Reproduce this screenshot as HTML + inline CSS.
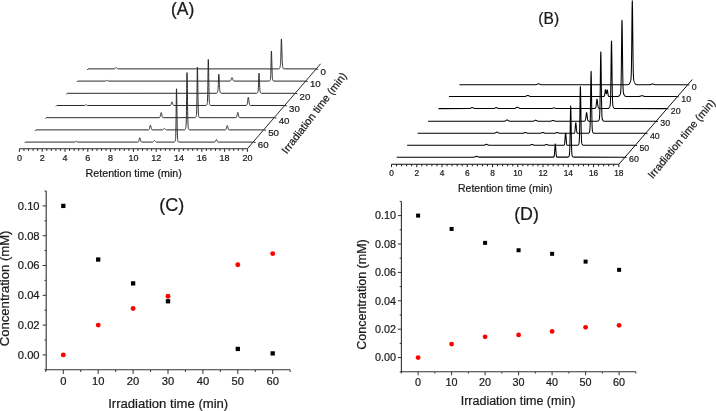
<!DOCTYPE html>
<html><head><meta charset="utf-8"><style>
html,body{margin:0;padding:0;background:#fff;width:716px;height:411px;overflow:hidden}
svg{display:block}
text{font-family:"Liberation Sans", sans-serif}
svg text{filter:grayscale(1);stroke:#1a1a1a;stroke-width:0.22px}
</style></head><body>
<svg width="716" height="411" viewBox="0 0 716 411" font-family='"Liberation Sans", sans-serif' fill="#1a1a1a">
<path d="M19.4 148.7H247.4" stroke="#2a2a2a" stroke-width="1.1" fill="none"/>
<path d="M19.4 148.7v3.2M23.96 148.7v2.2M28.52 148.7v2.2M33.08 148.7v2.2M37.64 148.7v2.2M42.2 148.7v3.2M46.76 148.7v2.2M51.32 148.7v2.2M55.88 148.7v2.2M60.44 148.7v2.2M65 148.7v3.2M69.56 148.7v2.2M74.12 148.7v2.2M78.68 148.7v2.2M83.24 148.7v2.2M87.8 148.7v3.2M92.36 148.7v2.2M96.92 148.7v2.2M101.48 148.7v2.2M106.04 148.7v2.2M110.6 148.7v3.2M115.16 148.7v2.2M119.72 148.7v2.2M124.28 148.7v2.2M128.84 148.7v2.2M133.4 148.7v3.2M137.96 148.7v2.2M142.52 148.7v2.2M147.08 148.7v2.2M151.64 148.7v2.2M156.2 148.7v3.2M160.76 148.7v2.2M165.32 148.7v2.2M169.88 148.7v2.2M174.44 148.7v2.2M179 148.7v3.2M183.56 148.7v2.2M188.12 148.7v2.2M192.68 148.7v2.2M197.24 148.7v2.2M201.8 148.7v3.2M206.36 148.7v2.2M210.92 148.7v2.2M215.48 148.7v2.2M220.04 148.7v2.2M224.6 148.7v3.2M229.16 148.7v2.2M233.72 148.7v2.2M238.28 148.7v2.2M242.84 148.7v2.2M247.4 148.7v3.2" stroke="#2a2a2a" stroke-width="1" fill="none"/>
<text x="19.4" y="160.9" font-size="9" text-anchor="middle">0</text>
<text x="42.2" y="160.9" font-size="9" text-anchor="middle">2</text>
<text x="65" y="160.9" font-size="9" text-anchor="middle">4</text>
<text x="87.8" y="160.9" font-size="9" text-anchor="middle">6</text>
<text x="110.6" y="160.9" font-size="9" text-anchor="middle">8</text>
<text x="133.4" y="160.9" font-size="9" text-anchor="middle">10</text>
<text x="156.2" y="160.9" font-size="9" text-anchor="middle">12</text>
<text x="179" y="160.9" font-size="9" text-anchor="middle">14</text>
<text x="201.8" y="160.9" font-size="9" text-anchor="middle">16</text>
<text x="224.6" y="160.9" font-size="9" text-anchor="middle">18</text>
<text x="247.4" y="160.9" font-size="9" text-anchor="middle">20</text>
<text x="133.7" y="176.7" font-size="10.7" text-anchor="middle">Retention time (min)</text>
<path d="M247.4 148.7L320.6 63.8" stroke="#2a2a2a" stroke-width="1" fill="none"/>
<path d="M315.98 68.9l2.2 0.4" stroke="#2a2a2a" stroke-width="1" fill="none"/>
<text x="320.38" y="75.2" font-size="9.7">0</text>
<path d="M305.55 81.1l2.2 0.4" stroke="#2a2a2a" stroke-width="1" fill="none"/>
<text x="309.95" y="87.4" font-size="9.7">10</text>
<path d="M295.12 93.3l2.2 0.4" stroke="#2a2a2a" stroke-width="1" fill="none"/>
<text x="299.52" y="99.6" font-size="9.7">20</text>
<path d="M284.69 105.5l2.2 0.4" stroke="#2a2a2a" stroke-width="1" fill="none"/>
<text x="289.09" y="111.8" font-size="9.7">30</text>
<path d="M274.26 117.7l2.2 0.4" stroke="#2a2a2a" stroke-width="1" fill="none"/>
<text x="278.66" y="124" font-size="9.7">40</text>
<path d="M263.83 129.9l2.2 0.4" stroke="#2a2a2a" stroke-width="1" fill="none"/>
<text x="268.23" y="136.2" font-size="9.7">50</text>
<path d="M253.4 142.1l2.2 0.4" stroke="#2a2a2a" stroke-width="1" fill="none"/>
<text x="257.8" y="148.4" font-size="9.7">60</text>
<path d="M87.2 69.8L88.1 68.9L114.1 68.89L114.2 68.88L114.28 68.87L114.45 68.84L114.62 68.8L114.7 68.77L114.8 68.72L114.97 68.62L115.15 68.48L115.2 68.43L115.33 68.3L115.5 68.11L115.67 67.92L115.7 67.89L115.85 67.75L116.03 67.64L116.2 67.6L116.38 67.64L116.55 67.75L116.7 67.89L116.72 67.92L116.9 68.11L117.08 68.3L117.2 68.43L117.25 68.48L117.42 68.62L117.6 68.72L117.7 68.77L117.78 68.8L117.95 68.84L118.12 68.87L118.2 68.88L118.3 68.89L278.72 68.88L278.8 68.88L278.88 68.87L278.96 68.85L279.04 68.84L279.12 68.81L279.2 68.78L279.28 68.73L279.36 68.68L279.44 68.6L279.52 68.51L279.6 68.39L279.68 68.25L279.7 68.21L279.76 68.08L279.84 67.87L279.92 67.62L280 67.32L280.08 66.98L280.16 66.59L280.2 66.38L280.24 66.15L280.32 65.64L280.4 65.04L280.48 64.32L280.56 63.42L280.64 62.26L280.7 61.16L280.72 60.74L280.8 58.74L280.88 56.21L280.96 53.16L281.04 49.73L281.12 46.19L281.2 42.94L281.28 40.44L281.36 39.08L281.4 38.9L281.44 39.01L281.52 39.85L281.6 41.47L281.68 43.69L281.7 44.32L281.76 46.34L281.84 49.19L281.92 52.06L282 54.8L282.08 57.27L282.16 59.43L282.2 60.38L282.24 61.25L282.32 62.75L282.4 63.97L282.48 64.94L282.56 65.72L282.64 66.34L282.7 66.72L282.72 66.84L282.8 67.24L282.88 67.57L282.96 67.84L283.04 68.07L283.12 68.25L283.2 68.39L283.28 68.51L283.36 68.6L283.44 68.68L283.52 68.73L283.6 68.78L283.68 68.81L283.7 68.82L283.76 68.84L283.84 68.85L283.92 68.87L284 68.88L284.08 68.88L315.98 68.9M76.77 82L77.67 81.1L105.4 81.09L105.53 81.08L105.65 81.06L105.77 81.03L105.78 81.03L105.9 80.98L106.03 80.91L106.15 80.81L106.27 80.69L106.28 80.69L106.4 80.55L106.53 80.42L106.65 80.31L106.77 80.23L106.78 80.23L106.9 80.2L107.03 80.23L107.15 80.31L107.27 80.42L107.28 80.42L107.4 80.55L107.53 80.69L107.65 80.81L107.77 80.9L107.78 80.91L107.9 80.98L108.03 81.03L108.15 81.06L108.27 81.08L108.28 81.08L108.4 81.09L229.72 81.08L229.77 81.08L229.9 81.06L230.07 81.02L230.25 80.95L230.27 80.93L230.43 80.82L230.6 80.63L230.77 80.35L230.78 80.34L230.95 79.96L231.12 79.5L231.27 79.07L231.3 78.98L231.47 78.46L231.65 78.01L231.77 77.78L231.82 77.71L232 77.6L232.18 77.71L232.27 77.85L232.35 78.01L232.53 78.46L232.7 78.98L232.77 79.19L232.88 79.5L233.05 79.96L233.22 80.34L233.27 80.43L233.4 80.63L233.57 80.82L233.75 80.95L233.77 80.96L233.93 81.02L234.1 81.06L234.27 81.08L268.88 81.09L268.96 81.08L269.04 81.07L269.12 81.06L269.2 81.05L269.27 81.03L269.28 81.03L269.36 81L269.44 80.97L269.52 80.93L269.6 80.88L269.68 80.81L269.76 80.73L269.77 80.72L269.84 80.64L269.92 80.53L270 80.4L270.08 80.24L270.16 80.07L270.24 79.85L270.27 79.76L270.32 79.59L270.4 79.26L270.48 78.8L270.56 78.13L270.64 77.15L270.72 75.72L270.77 74.53L270.8 73.7L270.88 70.98L270.96 67.59L271.04 63.67L271.12 59.57L271.2 55.77L271.27 53.13L271.28 52.82L271.36 51.21L271.4 51L271.44 51.12L271.52 52.09L271.6 53.94L271.68 56.47L271.76 59.46L271.77 59.85L271.84 62.66L271.92 65.83L272 68.79L272.08 71.41L272.16 73.63L272.24 75.43L272.27 76L272.32 76.85L272.4 77.92L272.48 78.72L272.56 79.31L272.64 79.75L272.72 80.06L272.77 80.22L272.8 80.3L272.88 80.48L272.96 80.61L273.04 80.72L273.12 80.81L273.2 80.87L273.27 80.92L273.28 80.93L273.36 80.97L273.44 81L273.52 81.03L273.6 81.05L273.68 81.06L273.76 81.07L273.77 81.07L273.84 81.08L273.92 81.09L305.55 81.1M66.34 94.2L67.24 93.3L216.28 93.28L216.34 93.28L216.36 93.27L216.44 93.26L216.52 93.25L216.6 93.23L216.68 93.21L216.76 93.18L216.84 93.14L216.92 93.08L217 93.02L217.08 92.94L217.16 92.84L217.24 92.73L217.32 92.59L217.34 92.55L217.4 92.42L217.48 92.23L217.56 92.02L217.64 91.77L217.72 91.48L217.8 91.14L217.84 90.94L217.88 90.72L217.96 90.18L218.04 89.47L218.12 88.51L218.2 87.24L218.28 85.6L218.34 84.14L218.36 83.61L218.44 81.36L218.52 79.02L218.6 76.88L218.68 75.22L218.76 74.32L218.8 74.2L218.84 74.27L218.92 74.83L219 75.89L219.08 77.35L219.16 79.08L219.24 80.95L219.32 82.82L219.34 83.27L219.4 84.59L219.48 86.18L219.56 87.56L219.64 88.72L219.72 89.66L219.8 90.42L219.84 90.73L219.88 91.01L219.96 91.48L220.04 91.84L220.12 92.14L220.2 92.37L220.28 92.56L220.34 92.68L220.36 92.71L220.44 92.84L220.52 92.94L220.6 93.02L220.68 93.08L220.76 93.14L220.84 93.18L220.92 93.21L221 93.23L221.08 93.25L221.16 93.26L221.24 93.27L221.32 93.28L256.48 93.29L256.56 93.28L256.64 93.27L256.72 93.26L256.8 93.25L256.84 93.24L256.88 93.23L256.96 93.2L257.04 93.17L257.12 93.13L257.2 93.08L257.28 93.01L257.34 92.95L257.36 92.93L257.44 92.84L257.52 92.73L257.6 92.6L257.68 92.45L257.76 92.27L257.84 92.07L257.92 91.83L258 91.53L258.08 91.16L258.16 90.65L258.24 89.95L258.32 88.96L258.34 88.67L258.4 87.62L258.48 85.86L258.56 83.68L258.64 81.18L258.72 78.59L258.8 76.2L258.84 75.18L258.88 74.34L258.96 73.33L259 73.2L259.04 73.28L259.12 73.89L259.2 75.07L259.28 76.68L259.34 78.09L259.36 78.58L259.44 80.63L259.52 82.67L259.6 84.59L259.68 86.31L259.76 87.77L259.84 88.98L259.92 89.95L260 90.71L260.08 91.29L260.16 91.74L260.24 92.07L260.32 92.33L260.34 92.39L260.4 92.54L260.48 92.7L260.56 92.82L260.64 92.93L260.72 93.01L260.8 93.07L260.84 93.1L260.88 93.13L260.96 93.17L261.04 93.2L261.12 93.23L261.2 93.25L261.28 93.26L261.34 93.27L261.36 93.27L261.44 93.28L261.52 93.29L295.12 93.3M55.91 106.4L56.81 105.5L84.7 105.49L84.83 105.48L84.91 105.47L84.95 105.46L85.08 105.43L85.2 105.38L85.33 105.31L85.41 105.24L85.45 105.21L85.58 105.09L85.7 104.95L85.83 104.82L85.91 104.74L85.95 104.71L86.08 104.63L86.2 104.6L86.33 104.63L86.41 104.68L86.45 104.71L86.58 104.82L86.7 104.95L86.83 105.09L86.91 105.17L86.95 105.21L87.08 105.31L87.2 105.38L87.33 105.43L87.41 105.45L87.45 105.46L87.58 105.48L87.7 105.49L170.05 105.48L170.2 105.46L170.35 105.42L170.41 105.39L170.5 105.34L170.65 105.21L170.8 105L170.91 104.79L170.95 104.7L171.1 104.3L171.25 103.81L171.4 103.26L171.41 103.22L171.55 102.71L171.7 102.23L171.85 101.91L171.91 101.84L172 101.8L172.15 101.91L172.3 102.23L172.41 102.57L172.45 102.71L172.6 103.26L172.75 103.81L172.9 104.3L172.91 104.33L173.05 104.7L173.2 105L173.35 105.21L173.41 105.27L173.5 105.34L173.65 105.42L173.8 105.46L173.91 105.48L173.95 105.48L205.78 105.48L205.86 105.47L205.91 105.47L205.94 105.46L206.02 105.45L206.1 105.43L206.18 105.41L206.26 105.38L206.34 105.34L206.41 105.29L206.42 105.28L206.5 105.22L206.58 105.14L206.66 105.04L206.74 104.92L206.82 104.79L206.9 104.62L206.91 104.6L206.98 104.43L207.06 104.2L207.14 103.93L207.22 103.59L207.3 103.13L207.38 102.48L207.41 102.17L207.46 101.52L207.54 100.06L207.62 97.89L207.7 94.78L207.78 90.59L207.86 85.32L207.91 81.58L207.94 79.22L208.02 72.81L208.1 66.87L208.18 62.25L208.26 59.73L208.3 59.4L208.34 59.59L208.41 60.84L208.42 61.11L208.5 63.98L208.58 67.93L208.66 72.58L208.74 77.55L208.82 82.47L208.9 87.05L208.91 87.59L208.98 91.1L209.06 94.51L209.14 97.27L209.22 99.41L209.3 101.03L209.38 102.22L209.41 102.58L209.46 103.08L209.54 103.7L209.62 104.14L209.7 104.47L209.78 104.7L209.86 104.88L209.91 104.97L209.94 105.02L210.02 105.13L210.1 105.22L210.18 105.28L210.26 105.33L210.34 105.38L210.41 105.4L210.42 105.41L210.5 105.43L210.58 105.45L210.66 105.46L210.74 105.47L210.82 105.48L246.2 105.48L246.35 105.46L246.41 105.44L246.5 105.41L246.65 105.31L246.8 105.14L246.91 104.94L246.95 104.85L247.1 104.39L247.25 103.73L247.4 102.84L247.41 102.77L247.55 101.75L247.7 100.53L247.85 99.31L247.91 98.86L248 98.26L248.15 97.55L248.3 97.3L248.41 97.44L248.45 97.55L248.6 98.26L248.75 99.31L248.9 100.53L248.91 100.61L249.05 101.75L249.2 102.84L249.35 103.73L249.41 104.02L249.5 104.39L249.65 104.85L249.8 105.14L249.91 105.28L249.95 105.31L250.1 105.41L250.25 105.46L250.4 105.48L284.69 105.5M45.48 118.6L46.38 117.7L159.1 117.69L159.25 117.67L159.4 117.64L159.48 117.62L159.55 117.58L159.7 117.48L159.85 117.29L159.98 117.05L160 117.01L160.15 116.6L160.3 116.04L160.45 115.37L160.48 115.22L160.6 114.61L160.75 113.85L160.9 113.2L160.98 112.93L161.05 112.76L161.2 112.6L161.35 112.76L161.48 113.13L161.5 113.2L161.65 113.85L161.8 114.61L161.95 115.37L161.98 115.51L162.1 116.04L162.25 116.6L162.4 117.01L162.48 117.18L162.55 117.29L162.7 117.48L162.85 117.58L162.98 117.64L163 117.64L163.15 117.67L163.3 117.69L194.88 117.68L194.96 117.67L194.98 117.67L195.04 117.66L195.12 117.65L195.2 117.63L195.28 117.61L195.36 117.58L195.44 117.54L195.48 117.51L195.52 117.48L195.6 117.42L195.68 117.34L195.76 117.24L195.84 117.12L195.92 116.99L195.98 116.86L196 116.82L196.08 116.63L196.16 116.4L196.24 116.12L196.32 115.77L196.4 115.3L196.48 114.61L196.56 113.57L196.64 111.98L196.72 109.61L196.8 106.19L196.88 101.56L196.96 95.73L196.98 94.11L197.04 88.97L197.12 81.87L197.2 75.28L197.28 70.17L197.36 67.36L197.4 67L197.44 67.21L197.48 67.85L197.52 68.89L197.6 72.07L197.68 76.44L197.76 81.59L197.84 87.09L197.92 92.53L197.98 96.38L198 97.6L198.08 102.06L198.16 105.82L198.24 108.84L198.32 111.19L198.4 112.96L198.48 114.25L198.56 115.18L198.64 115.84L198.72 116.31L198.8 116.65L198.88 116.89L198.96 117.08L198.98 117.12L199.04 117.22L199.12 117.33L199.2 117.41L199.28 117.48L199.36 117.53L199.44 117.58L199.48 117.59L199.52 117.61L199.6 117.63L199.68 117.65L199.76 117.66L199.84 117.67L199.92 117.68L235.7 117.69L235.85 117.67L235.98 117.65L236 117.64L236.15 117.58L236.3 117.47L236.45 117.28L236.48 117.23L236.6 116.98L236.75 116.55L236.9 115.98L236.98 115.62L237.05 115.27L237.2 114.49L237.35 113.7L237.48 113.1L237.5 113.02L237.65 112.56L237.8 112.4L237.95 112.56L237.98 112.63L238.1 113.02L238.25 113.7L238.4 114.49L238.48 114.91L238.55 115.27L238.7 115.98L238.85 116.55L238.98 116.93L239 116.98L239.15 117.28L239.3 117.47L239.45 117.58L239.48 117.59L239.6 117.64L239.75 117.67L239.9 117.69L274.26 117.7M35.05 130.8L35.95 129.9L148.3 129.89L148.45 129.88L148.55 129.86L148.6 129.85L148.75 129.79L148.9 129.69L149.05 129.53L149.2 129.26L149.35 128.88L149.5 128.37L149.55 128.18L149.65 127.75L149.8 127.05L149.95 126.35L150.05 125.94L150.1 125.75L150.25 125.34L150.4 125.2L150.55 125.34L150.7 125.75L150.85 126.35L151 127.05L151.05 127.29L151.15 127.75L151.3 128.37L151.45 128.88L151.55 129.15L151.6 129.26L151.75 129.53L151.9 129.69L152.05 129.79L152.2 129.85L152.35 129.88L152.5 129.89L162.05 129.88L162.2 129.87L162.4 129.84L162.55 129.81L162.6 129.8L162.8 129.72L163 129.62L163.05 129.59L163.2 129.48L163.4 129.3L163.55 129.16L163.6 129.11L163.8 128.92L164 128.75L164.05 128.72L164.2 128.64L164.4 128.6L164.55 128.62L164.6 128.64L164.8 128.75L165 128.92L165.05 128.97L165.2 129.11L165.4 129.3L165.55 129.44L165.6 129.48L165.8 129.62L166 129.72L166.05 129.75L166.2 129.8L166.4 129.84L166.55 129.86L166.6 129.87L166.8 129.89L184.4 129.88L184.48 129.87L184.55 129.86L184.56 129.86L184.64 129.84L184.72 129.82L184.8 129.79L184.88 129.75L184.96 129.7L185.04 129.64L185.05 129.63L185.12 129.55L185.2 129.45L185.28 129.32L185.36 129.17L185.44 128.98L185.52 128.76L185.55 128.66L185.6 128.5L185.68 128.19L185.76 127.83L185.84 127.41L185.92 126.9L186 126.24L186.05 125.71L186.08 125.34L186.16 124.05L186.24 122.17L186.32 119.44L186.4 115.59L186.48 110.44L186.55 104.88L186.56 104.01L186.64 96.59L186.72 88.82L186.8 81.63L186.88 76.05L186.96 73L187 72.6L187.04 72.83L187.05 72.97L187.12 74.67L187.2 78.16L187.28 82.96L187.36 88.63L187.44 94.69L187.52 100.7L187.55 102.87L187.6 106.32L187.68 111.3L187.76 115.52L187.84 118.96L187.92 121.65L188 123.71L188.05 124.73L188.08 125.26L188.16 126.39L188.24 127.23L188.32 127.85L188.4 128.31L188.48 128.66L188.55 128.9L188.56 128.93L188.64 129.14L188.72 129.31L188.8 129.45L188.88 129.55L188.96 129.64L189.04 129.7L189.05 129.71L189.12 129.75L189.2 129.79L189.28 129.82L189.36 129.84L189.44 129.86L189.52 129.87L189.55 129.88L189.6 129.88L225.1 129.89L225.25 129.88L225.4 129.85L225.55 129.8L225.7 129.71L225.85 129.56L226 129.32L226.05 129.21L226.15 128.97L226.3 128.5L226.45 127.93L226.55 127.51L226.6 127.29L226.75 126.65L226.9 126.11L227.05 125.73L227.2 125.6L227.35 125.73L227.5 126.11L227.55 126.27L227.65 126.65L227.8 127.29L227.95 127.93L228.05 128.32L228.1 128.5L228.25 128.97L228.4 129.32L228.55 129.56L228.7 129.71L228.85 129.8L229 129.85L229.05 129.86L229.15 129.88L229.3 129.89L263.83 129.9M24.62 143L25.52 142.1L74.8 142.09L74.92 142.08L75.05 142.06L75.12 142.04L75.17 142.03L75.3 141.98L75.42 141.91L75.55 141.81L75.62 141.74L75.67 141.69L75.8 141.55L75.92 141.42L76.05 141.31L76.12 141.26L76.17 141.23L76.3 141.2L76.42 141.23L76.55 141.31L76.62 141.37L76.67 141.42L76.8 141.55L76.92 141.69L77.05 141.81L77.12 141.87L77.17 141.91L77.3 141.98L77.42 142.03L77.55 142.06L77.62 142.07L77.67 142.08L77.8 142.09L137.7 142.09L137.85 142.08L138 142.05L138.12 142.01L138.15 142L138.3 141.91L138.45 141.75L138.6 141.5L138.62 141.46L138.75 141.15L138.9 140.67L139.05 140.09L139.12 139.79L139.2 139.43L139.35 138.78L139.5 138.22L139.62 137.89L139.65 137.84L139.8 137.7L139.95 137.84L140.1 138.22L140.12 138.28L140.25 138.78L140.4 139.43L140.55 140.09L140.62 140.37L140.7 140.67L140.85 141.15L141 141.5L141.12 141.71L141.15 141.75L141.3 141.91L141.45 142L141.6 142.05L141.62 142.06L141.75 142.08L141.9 142.09L152.12 142.08L152.3 142.07L152.5 142.03L152.62 142.01L152.7 141.98L152.9 141.9L153.1 141.78L153.12 141.76L153.3 141.61L153.5 141.41L153.62 141.28L153.7 141.19L153.9 140.97L154.1 140.78L154.12 140.76L154.3 140.65L154.5 140.6L154.62 140.62L154.7 140.65L154.9 140.78L155.1 140.97L155.12 140.99L155.3 141.19L155.5 141.41L155.62 141.54L155.7 141.61L155.9 141.78L156.1 141.9L156.12 141.91L156.3 141.98L156.5 142.03L156.62 142.06L156.7 142.07L156.9 142.08L173.98 142.08L174.06 142.07L174.12 142.07L174.14 142.06L174.22 142.05L174.3 142.03L174.38 142.01L174.46 141.98L174.54 141.94L174.62 141.88L174.7 141.82L174.78 141.74L174.86 141.64L174.94 141.52L175.02 141.39L175.1 141.22L175.12 141.18L175.18 141.03L175.26 140.8L175.34 140.52L175.42 140.16L175.5 139.68L175.58 138.97L175.62 138.49L175.66 137.89L175.74 136.23L175.82 133.73L175.9 130.14L175.98 125.27L176.06 119.12L176.12 113.84L176.14 111.99L176.22 104.5L176.3 97.54L176.38 92.14L176.46 89.18L176.5 88.8L176.54 89.03L176.62 90.8L176.7 94.15L176.78 98.76L176.86 104.19L176.94 109.99L177.02 115.72L177.1 121.06L177.12 122.3L177.18 125.76L177.26 129.71L177.34 132.89L177.42 135.36L177.5 137.21L177.58 138.56L177.62 139.08L177.66 139.52L177.74 140.21L177.82 140.69L177.9 141.04L177.98 141.29L178.06 141.48L178.12 141.59L178.14 141.62L178.22 141.73L178.3 141.81L178.38 141.88L178.46 141.93L178.54 141.98L178.62 142.01L178.7 142.03L178.78 142.05L178.86 142.06L178.94 142.07L179.02 142.08L214.45 142.09L214.6 142.07L214.62 142.07L214.75 142.04L214.9 141.99L215.05 141.9L215.12 141.84L215.2 141.76L215.35 141.56L215.5 141.29L215.62 141.03L215.65 140.96L215.8 140.58L215.95 140.21L216.1 139.89L216.12 139.86L216.25 139.68L216.4 139.6L216.55 139.68L216.62 139.76L216.7 139.89L216.85 140.21L217 140.58L217.12 140.88L217.15 140.96L217.3 141.29L217.45 141.56L217.6 141.76L217.62 141.78L217.75 141.9L217.9 141.99L218.05 142.04L218.12 142.06L218.2 142.07L218.35 142.09L253.4 142.1" stroke="#2a2a2a" stroke-width="1" fill="none" stroke-linejoin="round"/>
<text class="rl" transform="translate(314.7 113.4) rotate(-52.4)" font-size="10.8" text-anchor="middle" y="3">Irradiation time (min)</text>
<text x="182.6" y="15.2" font-size="17.5" text-anchor="middle">(A)</text>
<path d="M391.5 164.3H618.8" stroke="#111" stroke-width="1.1" fill="none"/>
<path d="M391.5 164.3v2.8M396.55 164.3v2.0M401.6 164.3v2.0M406.65 164.3v2.0M411.7 164.3v2.0M416.76 164.3v2.8M421.81 164.3v2.0M426.86 164.3v2.0M431.91 164.3v2.0M436.96 164.3v2.0M442.01 164.3v2.8M447.06 164.3v2.0M452.11 164.3v2.0M457.16 164.3v2.0M462.22 164.3v2.0M467.27 164.3v2.8M472.32 164.3v2.0M477.37 164.3v2.0M482.42 164.3v2.0M487.47 164.3v2.0M492.52 164.3v2.8M497.57 164.3v2.0M502.62 164.3v2.0M507.68 164.3v2.0M512.73 164.3v2.0M517.78 164.3v2.8M522.83 164.3v2.0M527.88 164.3v2.0M532.93 164.3v2.0M537.98 164.3v2.0M543.03 164.3v2.8M548.08 164.3v2.0M553.14 164.3v2.0M558.19 164.3v2.0M563.24 164.3v2.0M568.29 164.3v2.8M573.34 164.3v2.0M578.39 164.3v2.0M583.44 164.3v2.0M588.49 164.3v2.0M593.54 164.3v2.8M598.6 164.3v2.0M603.65 164.3v2.0M608.7 164.3v2.0M613.75 164.3v2.0M618.8 164.3v2.8" stroke="#111" stroke-width="1" fill="none"/>
<text x="391.5" y="175.7" font-size="8.3" text-anchor="middle">0</text>
<text x="416.76" y="175.7" font-size="8.3" text-anchor="middle">2</text>
<text x="442.01" y="175.7" font-size="8.3" text-anchor="middle">4</text>
<text x="467.27" y="175.7" font-size="8.3" text-anchor="middle">6</text>
<text x="492.52" y="175.7" font-size="8.3" text-anchor="middle">8</text>
<text x="517.78" y="175.7" font-size="8.3" text-anchor="middle">10</text>
<text x="543.03" y="175.7" font-size="8.3" text-anchor="middle">12</text>
<text x="568.29" y="175.7" font-size="8.3" text-anchor="middle">14</text>
<text x="593.54" y="175.7" font-size="8.3" text-anchor="middle">16</text>
<text x="618.8" y="175.7" font-size="8.3" text-anchor="middle">18</text>
<text x="505.3" y="191.6" font-size="10.5" text-anchor="middle">Retention time (min)</text>
<path d="M618.8 164.3L692.3 79.5" stroke="#111" stroke-width="1" fill="none"/>
<path d="M687.3 84.75l2 0.3" stroke="#111" stroke-width="1" fill="none"/>
<text x="691.7" y="89.95" font-size="8.8">0</text>
<path d="M676.85 96.45l2 0.3" stroke="#111" stroke-width="1" fill="none"/>
<text x="681.25" y="101.65" font-size="8.8">10</text>
<path d="M666.4 108.6l2 0.3" stroke="#111" stroke-width="1" fill="none"/>
<text x="670.8" y="113.8" font-size="8.8">20</text>
<path d="M655.95 121.25l2 0.3" stroke="#111" stroke-width="1" fill="none"/>
<text x="660.35" y="126.45" font-size="8.8">30</text>
<path d="M645.5 133.3l2 0.3" stroke="#111" stroke-width="1" fill="none"/>
<text x="649.9" y="138.5" font-size="8.8">40</text>
<path d="M635.05 145.3l2 0.3" stroke="#111" stroke-width="1" fill="none"/>
<text x="639.45" y="150.5" font-size="8.8">50</text>
<path d="M624.6 157.15l2 0.3" stroke="#111" stroke-width="1" fill="none"/>
<text x="629" y="162.35" font-size="8.8">60</text>
<path d="M459.4 84.75L535.4 84.73L535.48 84.73L535.75 84.71L535.9 84.69L536.02 84.67L536.3 84.61L536.4 84.59L536.58 84.53L536.85 84.43L536.9 84.4L537.12 84.29L537.4 84.14L537.67 84L537.9 83.89L537.95 83.87L538.23 83.78L538.4 83.75L538.5 83.75L538.77 83.78L538.9 83.81L539.05 83.87L539.33 84L539.4 84.03L539.6 84.14L539.88 84.29L539.9 84.31L540.15 84.43L540.4 84.53L540.42 84.53L540.7 84.61L540.9 84.66L540.98 84.67L541.25 84.71L541.4 84.72L541.52 84.73L541.8 84.74L627.09 84.73L627.2 84.73L627.31 84.72L627.4 84.72L627.42 84.71L627.54 84.7L627.65 84.69L627.76 84.68L627.88 84.66L627.9 84.66L627.99 84.64L628.1 84.61L628.21 84.58L628.33 84.54L628.4 84.51L628.44 84.5L628.55 84.44L628.66 84.38L628.77 84.31L628.89 84.22L628.9 84.21L629 84.13L629.11 84.02L629.23 83.89L629.34 83.76L629.4 83.67L629.45 83.6L629.56 83.43L629.67 83.24L629.79 83.03L629.9 82.8L630.01 82.56L630.12 82.3L630.24 82.03L630.35 81.74L630.4 81.6L630.46 81.43L630.58 81.09L630.69 80.7L630.8 80.21L630.9 79.61L630.91 79.53L631.02 78.48L631.14 76.84L631.25 74.21L631.36 70.23L631.4 68.49L631.48 64.4L631.59 56.57L631.7 46.65L631.81 35.37L631.9 26.16L631.92 23.59L632.04 12.99L632.15 4.99L632.26 1.08L632.3 0.8L632.38 1.87L632.4 2.69L632.49 7.22L632.6 16.27L632.71 27.4L632.83 39.2L632.9 46.65L632.94 50.1L633.05 59.38L633.16 66.53L633.27 71.72L633.39 75.21L633.4 75.52L633.5 77.47L633.61 78.88L633.73 79.78L633.84 80.38L633.9 80.65L633.95 80.83L634.06 81.2L634.17 81.53L634.29 81.83L634.4 82.12L634.51 82.39L634.62 82.64L634.74 82.88L634.85 83.1L634.9 83.19L634.96 83.3L635.08 83.49L635.19 83.65L635.3 83.8L635.4 83.92L635.41 83.94L635.52 84.06L635.64 84.16L635.75 84.25L635.86 84.33L635.9 84.36L635.98 84.4L636.09 84.46L636.2 84.51L636.31 84.55L636.4 84.58L636.42 84.59L636.54 84.62L636.65 84.65L636.76 84.67L636.88 84.68L636.9 84.69L636.99 84.7L637.1 84.71L637.21 84.72L637.33 84.72L637.4 84.73L637.44 84.73L649.48 84.73L649.75 84.71L649.9 84.7L650.02 84.69L650.3 84.64L650.4 84.62L650.58 84.58L650.85 84.49L650.9 84.47L651.12 84.38L651.4 84.26L651.67 84.15L651.9 84.06L651.95 84.04L652.23 83.97L652.4 83.95L652.5 83.95L652.77 83.97L652.9 84L653.05 84.04L653.33 84.15L653.4 84.18L653.6 84.26L653.88 84.38L653.9 84.39L654.15 84.49L654.4 84.57L654.42 84.58L654.7 84.64L654.9 84.68L654.98 84.69L655.25 84.71L655.4 84.73L655.52 84.73L687.3 84.75M448.95 96.45L524.5 96.44L524.77 96.43L524.95 96.42L525.05 96.41L525.33 96.37L525.45 96.35L525.6 96.31L525.88 96.23L525.95 96.21L526.15 96.13L526.42 95.99L526.45 95.98L526.7 95.84L526.95 95.71L526.98 95.7L527.25 95.57L527.45 95.5L527.52 95.48L527.8 95.45L527.95 95.46L528.08 95.48L528.35 95.57L528.45 95.61L528.62 95.7L528.9 95.84L528.95 95.87L529.17 95.99L529.45 96.13L529.73 96.23L529.95 96.3L530 96.31L530.27 96.37L530.45 96.4L530.55 96.41L530.83 96.43L530.95 96.43L603.75 96.44L603.88 96.42L603.95 96.39L604 96.37L604.12 96.29L604.25 96.15L604.38 95.91L604.45 95.69L604.5 95.52L604.62 94.97L604.75 94.23L604.88 93.31L604.95 92.71L605 92.3L605.12 91.28L605.25 90.4L605.3 90.12L605.38 89.81L605.42 89.67L605.45 89.63L605.5 89.59L605.55 89.62L605.62 89.79L605.67 89.97L605.75 90.35L605.8 90.66L605.88 91.17L605.92 91.53L605.95 91.71L606 92.08L606.05 92.43L606.12 92.91L606.17 93.18L606.25 93.52L606.3 93.67L606.38 93.8L606.42 93.82L606.45 93.8L606.5 93.73L606.55 93.6L606.62 93.31L606.67 93.06L606.75 92.63L606.8 92.3L606.88 91.8L606.92 91.46L606.95 91.3L607 90.99L607.05 90.7L607.12 90.35L607.17 90.17L607.25 90.02L607.3 89.99L607.38 90.07L607.42 90.19L607.45 90.28L607.55 90.76L607.67 91.58L607.8 92.54L607.92 93.5L607.95 93.68L608.05 94.36L608.17 95.06L608.3 95.58L608.42 95.94L608.45 95.99L608.55 96.17L608.67 96.3L608.8 96.38L608.92 96.42L608.95 96.42L609.05 96.44L617.59 96.43L617.7 96.42L617.81 96.42L617.92 96.41L617.95 96.4L618.04 96.39L618.15 96.38L618.26 96.35L618.38 96.33L618.45 96.31L618.49 96.29L618.6 96.25L618.71 96.21L618.83 96.15L618.94 96.08L618.95 96.07L619.05 95.99L619.16 95.9L619.27 95.78L619.39 95.65L619.45 95.57L619.5 95.51L619.61 95.34L619.73 95.15L619.84 94.95L619.95 94.72L620.06 94.47L620.17 94.19L620.29 93.88L620.4 93.51L620.45 93.32L620.51 93.04L620.62 92.36L620.74 91.34L620.85 89.71L620.95 87.51L620.96 87.18L621.08 83.31L621.19 77.8L621.3 70.34L621.41 61.16L621.45 57.72L621.52 50.65L621.64 40.01L621.75 30.44L621.86 23.56L621.95 20.74L621.98 20.41L622 20.3L622.09 21.61L622.2 26.97L622.31 35.46L622.42 45.85L622.45 48.25L622.54 56.52L622.65 66.44L622.76 74.67L622.88 81.07L622.95 84.3L622.99 85.62L623.1 88.72L623.21 90.7L623.33 91.96L623.44 92.76L623.45 92.84L623.55 93.32L623.66 93.72L623.77 94.06L623.89 94.35L623.95 94.5L624 94.61L624.11 94.85L624.23 95.06L624.34 95.26L624.45 95.43L624.56 95.59L624.67 95.73L624.79 95.85L624.9 95.95L624.95 95.99L625.01 96.04L625.12 96.12L625.24 96.18L625.35 96.23L625.45 96.27L625.46 96.28L625.58 96.31L625.69 96.34L625.8 96.37L625.91 96.39L625.95 96.39L626.02 96.4L626.14 96.41L626.25 96.42L626.36 96.43L626.45 96.43L638.98 96.43L639.25 96.41L639.45 96.4L639.52 96.39L639.8 96.34L639.95 96.31L640.08 96.28L640.35 96.19L640.45 96.15L640.62 96.08L640.9 95.96L640.95 95.94L641.17 95.85L641.45 95.74L641.73 95.67L641.95 95.65L642 95.65L642.27 95.67L642.45 95.71L642.55 95.74L642.83 95.85L642.95 95.9L643.1 95.96L643.38 96.08L643.45 96.11L643.65 96.19L643.92 96.28L643.95 96.28L644.2 96.34L644.45 96.38L644.48 96.39L644.75 96.41L644.95 96.43L645.02 96.43L676.85 96.45M438.5 108.6L469 108.58L469.18 108.57L469.45 108.55L469.5 108.55L469.73 108.51L470 108.45L470.27 108.36L470.5 108.27L470.55 108.24L470.82 108.1L471 107.99L471.1 107.93L471.38 107.77L471.5 107.7L471.65 107.63L471.93 107.53L472 107.52L472.2 107.5L472.48 107.53L472.5 107.54L472.75 107.63L473 107.76L473.02 107.77L473.3 107.93L473.5 108.05L473.57 108.1L473.85 108.24L474 108.31L474.12 108.36L474.4 108.45L474.5 108.48L474.68 108.51L474.95 108.55L475 108.56L475.23 108.57L475.5 108.59L493 108.59L493.18 108.58L493.45 108.56L493.5 108.55L493.73 108.52L494 108.46L494.27 108.38L494.5 108.3L494.55 108.28L494.82 108.14L495 108.05L495.1 107.99L495.38 107.85L495.5 107.78L495.65 107.72L495.93 107.63L496 107.62L496.2 107.6L496.48 107.63L496.5 107.64L496.75 107.72L497 107.83L497.02 107.85L497.3 107.99L497.5 108.1L497.57 108.14L497.85 108.28L498 108.34L498.12 108.38L498.4 108.46L498.5 108.49L498.68 108.52L498.95 108.56L499 108.56L499.23 108.58L499.5 108.59L513.5 108.58L513.83 108.57L514 108.55L514.15 108.54L514.48 108.49L514.5 108.48L514.8 108.41L515 108.35L515.12 108.3L515.45 108.15L515.5 108.12L515.77 107.96L516 107.82L516.1 107.75L516.42 107.54L516.5 107.5L516.75 107.36L517 107.26L517.08 107.24L517.4 107.2L517.5 107.2L517.73 107.24L518 107.34L518.05 107.36L518.38 107.54L518.5 107.62L518.7 107.75L519 107.94L519.02 107.96L519.35 108.15L519.5 108.22L519.67 108.3L520 108.41L520.33 108.49L520.5 108.52L520.65 108.54L520.98 108.57L521 108.57L521.3 108.58L551 108.58L551.25 108.57L551.5 108.55L551.52 108.54L551.8 108.51L552 108.47L552.08 108.45L552.35 108.37L552.5 108.32L552.62 108.28L552.9 108.18L553 108.14L553.17 108.07L553.45 107.98L553.5 107.97L553.73 107.92L554 107.9L554.27 107.92L554.5 107.97L554.55 107.98L554.83 108.07L555 108.14L555.1 108.18L555.38 108.28L555.5 108.32L555.65 108.37L555.92 108.45L556 108.47L556.2 108.51L556.48 108.54L556.5 108.55L556.75 108.57L557 108.58L593.88 108.58L594 108.58L594.12 108.57L594.25 108.55L594.38 108.54L594.5 108.51L594.62 108.48L594.75 108.44L594.88 108.39L595 108.33L595.12 108.25L595.25 108.15L595.38 108.03L595.5 107.87L595.62 107.65L595.75 107.36L595.88 106.95L596 106.39L596.12 105.64L596.25 104.69L596.38 103.57L596.5 102.35L596.62 101.15L596.75 100.13L596.88 99.44L597 99.2L597.12 99.44L597.25 100.13L597.38 101.15L597.5 102.35L597.62 103.57L597.75 104.69L597.88 105.64L598 106.39L598.12 106.95L598.25 107.36L598.38 107.65L598.5 107.87L598.62 108.03L598.75 108.15L598.88 108.25L599 108.33L599.12 108.39L599.25 108.44L599.38 108.48L599.5 108.51L599.62 108.54L599.75 108.55L599.88 108.57L600 108.58L600.12 108.58L607.5 108.58L607.6 108.57L607.71 108.57L607.83 108.55L607.94 108.54L608 108.53L608.05 108.52L608.16 108.5L608.27 108.46L608.39 108.43L608.5 108.38L608.61 108.32L608.73 108.26L608.84 108.17L608.95 108.08L609 108.03L609.06 107.97L609.17 107.83L609.29 107.69L609.4 107.52L609.5 107.35L609.51 107.33L609.62 107.11L609.74 106.87L609.85 106.58L609.96 106.22L610 106.07L610.08 105.71L610.19 104.97L610.3 103.78L610.41 101.92L610.5 99.77L610.52 99.02L610.64 94.79L610.75 88.88L610.86 81.35L610.98 72.36L611 70.25L611.09 62.8L611.2 53.63L611.31 46.29L611.42 41.87L611.5 41L611.54 41.21L611.65 44.42L611.76 50.88L611.88 59.6L611.99 69.14L612 70.25L612.1 78.45L612.21 86.5L612.33 92.99L612.44 97.75L612.5 99.77L612.55 101.08L612.66 103.24L612.77 104.63L612.89 105.49L613 106.07L613.11 106.47L613.23 106.78L613.34 107.04L613.45 107.26L613.5 107.35L613.56 107.46L613.67 107.63L613.79 107.79L613.9 107.92L614 108.03L614.01 108.04L614.12 108.14L614.24 108.23L614.35 108.3L614.46 108.36L614.5 108.38L614.58 108.41L614.69 108.45L614.8 108.49L614.91 108.51L615 108.53L615.02 108.53L615.14 108.55L615.25 108.56L615.36 108.57L615.48 108.58L615.5 108.58L666.4 108.6M428.05 121.25L503.8 121.24L504.05 121.22L504.07 121.22L504.35 121.19L504.55 121.16L504.62 121.15L504.9 121.07L505.05 121.02L505.18 120.97L505.45 120.83L505.55 120.77L505.73 120.65L506 120.46L506.05 120.43L506.27 120.27L506.55 120.1L506.82 119.99L507.05 119.95L507.1 119.95L507.38 119.99L507.55 120.05L507.65 120.1L507.93 120.27L508.05 120.35L508.2 120.46L508.48 120.65L508.55 120.7L508.75 120.83L509.02 120.97L509.05 120.98L509.3 121.07L509.55 121.14L509.57 121.15L509.85 121.19L510.05 121.21L510.12 121.22L510.4 121.24L532.3 121.24L532.55 121.23L532.58 121.23L532.85 121.21L533.05 121.18L533.12 121.17L533.4 121.11L533.55 121.07L533.67 121.03L533.95 120.93L534.05 120.88L534.23 120.79L534.5 120.64L534.55 120.62L534.77 120.5L535.05 120.37L535.33 120.28L535.55 120.25L535.6 120.25L535.88 120.28L536.05 120.33L536.15 120.37L536.42 120.5L536.55 120.56L536.7 120.64L536.98 120.79L537.05 120.83L537.25 120.93L537.52 121.03L537.55 121.04L537.8 121.11L538.05 121.17L538.08 121.17L538.35 121.21L538.55 121.22L538.62 121.23L538.9 121.24L549.98 121.23L550.05 121.23L550.25 121.21L550.52 121.19L550.55 121.18L550.8 121.14L551.05 121.08L551.08 121.08L551.35 120.99L551.55 120.91L551.62 120.88L551.9 120.76L552.05 120.7L552.17 120.65L552.45 120.54L552.55 120.51L552.73 120.47L553 120.45L553.05 120.45L553.27 120.47L553.55 120.54L553.83 120.65L554.05 120.74L554.1 120.76L554.38 120.88L554.55 120.95L554.65 120.99L554.92 121.08L555.05 121.11L555.2 121.14L555.48 121.19L555.55 121.2L555.75 121.21L556.02 121.23L583.75 121.24L583.88 121.23L584 121.22L584.05 121.21L584.12 121.2L584.25 121.18L584.38 121.16L584.5 121.12L584.55 121.1L584.62 121.07L584.75 121L584.88 120.91L585 120.8L585.05 120.74L585.12 120.64L585.25 120.43L585.38 120.13L585.5 119.71L585.55 119.5L585.62 119.14L585.75 118.4L585.88 117.48L586 116.41L586.05 115.96L586.12 115.28L586.25 114.19L586.38 113.3L586.5 112.74L586.55 112.64L586.6 112.6L586.62 112.61L586.75 112.92L586.88 113.62L587 114.61L587.05 115.05L587.12 115.73L587.25 116.85L587.38 117.87L587.5 118.72L587.55 119.01L587.62 119.39L587.75 119.89L587.88 120.26L588 120.52L588.05 120.6L588.12 120.71L588.25 120.85L588.38 120.95L588.5 121.03L588.55 121.06L588.62 121.09L588.75 121.13L588.88 121.17L589 121.19L589.05 121.2L589.12 121.21L589.25 121.22L589.38 121.23L597.08 121.23L597.19 121.23L597.3 121.22L597.41 121.21L597.52 121.19L597.55 121.19L597.64 121.17L597.75 121.14L597.86 121.11L597.98 121.07L598.05 121.03L598.09 121.01L598.2 120.94L598.31 120.86L598.42 120.76L598.54 120.65L598.55 120.63L598.65 120.51L598.76 120.35L598.88 120.16L598.99 119.95L599.05 119.81L599.1 119.68L599.21 119.36L599.33 118.92L599.44 118.27L599.55 117.27L599.66 115.69L599.77 113.2L599.89 109.49L600 104.16L600.05 101.24L600.11 97.14L600.23 88.44L600.34 78.77L600.45 68.94L600.55 61.23L600.56 60.41L600.67 54.37L600.79 51.93L600.8 51.9L600.9 53.49L601.01 58.75L601.05 61.23L601.12 66.89L601.24 76.47L601.35 86.35L601.46 95.27L601.55 101.24L601.58 102.74L601.69 108.41L601.8 112.49L601.91 115.21L602.02 116.98L602.05 117.27L602.14 118.08L602.25 118.79L602.36 119.27L602.48 119.62L602.55 119.81L602.59 119.89L602.7 120.12L602.81 120.31L602.92 120.48L603.04 120.62L603.05 120.63L603.15 120.74L603.26 120.84L603.38 120.93L603.49 121L603.55 121.03L603.6 121.05L603.71 121.1L603.83 121.14L603.94 121.16L604.05 121.19L604.16 121.2L604.27 121.22L604.39 121.23L604.5 121.23L655.95 121.25M417.6 133.3L493.6 133.29L493.88 133.27L494.1 133.25L494.15 133.25L494.43 133.2L494.6 133.17L494.7 133.14L494.98 133.04L495.1 132.99L495.25 132.91L495.52 132.75L495.6 132.7L495.8 132.57L496.07 132.39L496.1 132.38L496.35 132.24L496.6 132.14L496.62 132.14L496.9 132.1L497.1 132.12L497.18 132.14L497.45 132.24L497.6 132.32L497.73 132.39L498 132.57L498.1 132.64L498.27 132.75L498.55 132.91L498.6 132.94L498.82 133.04L499.1 133.14L499.38 133.2L499.6 133.24L499.65 133.25L499.93 133.27L500.1 133.28L522.38 133.28L522.6 133.27L522.65 133.26L522.92 133.24L523.1 133.21L523.2 133.19L523.48 133.13L523.6 133.09L523.75 133.04L524.02 132.93L524.1 132.9L524.3 132.81L524.58 132.7L524.6 132.69L524.85 132.59L525.1 132.53L525.12 132.52L525.4 132.5L525.6 132.51L525.67 132.52L525.95 132.59L526.1 132.65L526.23 132.7L526.5 132.81L526.6 132.86L526.77 132.93L527.05 133.04L527.1 133.06L527.33 133.13L527.6 133.19L527.88 133.24L528.1 133.26L528.15 133.26L528.42 133.28L539.67 133.28L539.95 133.26L540.1 133.25L540.23 133.24L540.5 133.19L540.6 133.17L540.77 133.13L541.05 133.04L541.1 133.02L541.33 132.93L541.6 132.81L541.88 132.7L542.1 132.61L542.15 132.59L542.42 132.52L542.6 132.5L542.7 132.5L542.98 132.52L543.1 132.55L543.25 132.59L543.52 132.7L543.6 132.73L543.8 132.81L544.08 132.93L544.1 132.94L544.35 133.04L544.6 133.12L544.62 133.13L544.9 133.19L545.1 133.23L545.17 133.24L545.45 133.26L545.6 133.28L545.73 133.28L554.27 133.28L554.55 133.26L554.6 133.26L554.83 133.24L555.1 133.19L555.38 133.13L555.6 133.06L555.65 133.04L555.92 132.93L556.1 132.86L556.2 132.81L556.48 132.7L556.6 132.65L556.75 132.59L557.02 132.52L557.1 132.51L557.3 132.5L557.58 132.52L557.6 132.53L557.85 132.59L558.1 132.69L558.12 132.7L558.4 132.81L558.6 132.9L558.67 132.93L558.95 133.04L559.1 133.09L559.23 133.13L559.5 133.19L559.6 133.21L559.77 133.24L560.05 133.26L560.1 133.27L560.33 133.28L573.92 133.29L574.05 133.28L574.1 133.27L574.17 133.25L574.3 133.18L574.42 133.06L574.55 132.84L574.6 132.71L574.67 132.46L574.8 131.88L574.92 131.03L575.05 129.89L575.1 129.36L575.17 128.49L575.3 126.93L575.42 125.37L575.55 124.03L575.6 123.61L575.67 123.12L575.8 122.8L575.92 123.12L576.05 124.03L576.1 124.53L576.17 125.37L576.3 126.93L576.42 128.49L576.55 129.89L576.6 130.38L576.67 131.03L576.8 131.88L576.92 132.46L577.05 132.84L577.1 132.94L577.17 133.06L577.3 133.18L577.42 133.25L577.55 133.28L577.6 133.28L587.77 133.28L587.89 133.27L588 133.26L588.1 133.25L588.11 133.25L588.23 133.23L588.34 133.2L588.45 133.17L588.56 133.12L588.6 133.1L588.67 133.06L588.79 132.99L588.9 132.9L589.01 132.79L589.1 132.69L589.12 132.66L589.24 132.5L589.35 132.3L589.46 132.05L589.58 131.71L589.6 131.62L589.69 131.23L589.8 130.48L589.91 129.32L590.02 127.46L590.1 125.7L590.14 124.65L590.25 120.51L590.36 114.89L590.48 107.68L590.59 99.33L590.6 98.31L590.7 90.41L590.81 82.13L590.92 75.56L591.04 71.87L591.1 71.3L591.15 71.66L591.26 74.97L591.38 81.26L591.49 89.4L591.6 98.31L591.71 106.76L591.83 114.14L591.94 119.93L592.05 124.24L592.1 125.7L592.16 127.19L592.27 129.14L592.39 130.37L592.5 131.16L592.6 131.62L592.61 131.66L592.73 132.01L592.84 132.27L592.95 132.47L593.06 132.64L593.1 132.69L593.17 132.78L593.29 132.89L593.4 132.98L593.51 133.05L593.6 133.1L593.62 133.11L593.74 133.16L593.85 133.2L593.96 133.23L594.08 133.25L594.1 133.25L594.19 133.26L594.3 133.27L594.41 133.28L645.5 133.3M407.15 145.3L483.2 145.29L483.48 145.28L483.65 145.27L483.75 145.26L484.02 145.22L484.15 145.2L484.3 145.16L484.57 145.08L484.65 145.06L484.85 144.98L485.12 144.84L485.15 144.83L485.4 144.69L485.65 144.56L485.68 144.55L485.95 144.42L486.15 144.35L486.23 144.33L486.5 144.3L486.65 144.31L486.77 144.33L487.05 144.42L487.15 144.46L487.32 144.55L487.6 144.69L487.65 144.72L487.88 144.84L488.15 144.98L488.43 145.08L488.65 145.15L488.7 145.16L488.98 145.22L489.15 145.25L489.25 145.26L489.52 145.28L489.65 145.28L528.98 145.28L529.15 145.27L529.25 145.26L529.52 145.24L529.65 145.22L529.8 145.19L530.08 145.13L530.15 145.11L530.35 145.04L530.62 144.93L530.65 144.92L530.9 144.81L531.15 144.71L531.17 144.7L531.45 144.59L531.65 144.54L531.73 144.52L532 144.5L532.15 144.51L532.27 144.52L532.55 144.59L532.65 144.63L532.83 144.7L533.1 144.81L533.15 144.84L533.38 144.93L533.65 145.04L533.92 145.13L534.15 145.18L534.2 145.19L534.48 145.24L534.65 145.26L534.75 145.26L535.02 145.28L543.58 145.28L543.65 145.28L543.85 145.26L544.12 145.24L544.15 145.23L544.4 145.19L544.65 145.13L544.67 145.13L544.95 145.04L545.15 144.96L545.23 144.93L545.5 144.81L545.65 144.75L545.77 144.7L546.05 144.59L546.15 144.56L546.33 144.52L546.6 144.5L546.65 144.5L546.88 144.52L547.15 144.59L547.42 144.7L547.65 144.79L547.7 144.81L547.98 144.93L548.15 145L548.25 145.04L548.52 145.13L548.65 145.16L548.8 145.19L549.08 145.24L549.15 145.25L549.35 145.26L549.62 145.28L563.73 145.29L563.85 145.27L563.98 145.24L564.1 145.16L564.15 145.12L564.23 145.02L564.35 144.76L564.48 144.32L564.6 143.64L564.65 143.28L564.73 142.64L564.85 141.31L564.98 139.67L565.1 137.84L565.15 137.1L565.23 136.02L565.35 134.45L565.48 133.38L565.6 133L565.65 133.06L565.73 133.38L565.85 134.45L565.98 136.02L566.1 137.84L566.15 138.58L566.23 139.67L566.35 141.31L566.48 142.64L566.6 143.64L566.65 143.94L566.73 144.32L566.85 144.76L566.98 145.02L567.1 145.16L567.15 145.2L567.23 145.24L567.35 145.27L567.48 145.29L577.08 145.28L577.15 145.28L577.19 145.27L577.3 145.26L577.41 145.25L577.52 145.23L577.64 145.2L577.65 145.2L577.75 145.17L577.86 145.12L577.98 145.06L578.09 144.99L578.15 144.94L578.2 144.9L578.31 144.79L578.42 144.66L578.54 144.5L578.65 144.3L578.76 144.05L578.88 143.72L578.99 143.25L579.1 142.53L579.15 142.1L579.21 141.42L579.33 139.65L579.44 136.98L579.55 133.06L579.65 128.39L579.66 127.75L579.77 120.94L579.89 113.05L580 104.63L580.11 96.82L580.15 94.49L580.23 90.62L580.34 87.14L580.4 86.6L580.45 86.94L580.56 90.06L580.65 94.49L580.67 96L580.79 103.68L580.9 112.09L581.01 120.07L581.12 127.04L581.15 128.39L581.24 132.52L581.35 136.6L581.46 139.39L581.58 141.25L581.65 142.1L581.69 142.43L581.8 143.18L581.91 143.67L582.02 144.02L582.14 144.27L582.15 144.3L582.25 144.48L582.36 144.64L582.48 144.78L582.59 144.89L582.65 144.94L582.7 144.98L582.81 145.05L582.92 145.11L583.04 145.16L583.15 145.2L583.26 145.23L583.38 145.25L583.49 145.26L583.6 145.27L583.65 145.28L583.71 145.28L635.05 145.3M396.7 157.15L473.48 157.13L473.7 157.12L473.75 157.11L474.02 157.09L474.2 157.06L474.3 157.04L474.57 156.98L474.7 156.94L474.85 156.89L475.12 156.78L475.2 156.75L475.4 156.66L475.68 156.55L475.7 156.54L475.95 156.44L476.2 156.38L476.23 156.37L476.5 156.35L476.7 156.36L476.77 156.37L477.05 156.44L477.2 156.5L477.32 156.55L477.6 156.66L477.7 156.71L477.88 156.78L478.15 156.89L478.2 156.91L478.43 156.98L478.7 157.04L478.98 157.09L479.2 157.11L479.25 157.11L479.52 157.13L553.42 157.14L553.55 157.12L553.67 157.08L553.7 157.07L553.8 157L553.92 156.85L554.05 156.57L554.17 156.1L554.2 155.98L554.3 155.37L554.42 154.31L554.55 152.88L554.67 151.13L554.7 150.75L554.8 149.17L554.92 147.22L555.05 145.55L555.17 144.4L555.2 144.26L555.3 144L555.42 144.4L555.55 145.55L555.67 147.22L555.7 147.6L555.8 149.17L555.92 151.13L556.05 152.88L556.17 154.31L556.2 154.55L556.3 155.37L556.42 156.1L556.55 156.57L556.67 156.85L556.7 156.89L556.8 157L556.92 157.08L557.05 157.12L557.17 157.14L567.38 157.13L567.49 157.13L567.6 157.12L567.7 157.11L567.71 157.1L567.83 157.09L567.94 157.06L568.05 157.03L568.16 156.99L568.2 156.97L568.27 156.94L568.39 156.87L568.5 156.79L568.61 156.7L568.7 156.61L568.73 156.58L568.84 156.44L568.95 156.26L569.06 156.04L569.17 155.75L569.2 155.67L569.29 155.34L569.4 154.71L569.51 153.73L569.62 152.19L569.7 150.73L569.74 149.86L569.85 146.44L569.96 141.82L570.08 135.89L570.19 129.02L570.2 128.19L570.3 121.7L570.41 114.89L570.52 109.49L570.64 106.47L570.7 106L570.75 106.3L570.86 109.01L570.98 114.18L571.09 120.86L571.2 128.19L571.31 135.13L571.42 141.2L571.54 145.97L571.65 149.52L571.7 150.73L571.76 151.96L571.88 153.58L571.99 154.61L572.1 155.28L572.2 155.67L572.21 155.71L572.33 156.01L572.44 156.24L572.55 156.42L572.66 156.56L572.7 156.61L572.77 156.68L572.89 156.78L573 156.87L573.11 156.93L573.2 156.97L573.23 156.98L573.34 157.03L573.45 157.06L573.56 157.08L573.67 157.1L573.7 157.11L573.79 157.12L573.9 157.13L574.01 157.13L624.6 157.15" stroke="#000" stroke-width="1.05" fill="none" stroke-linejoin="round"/>
<text class="rl" transform="translate(681.5 138.9) rotate(-50.5)" font-size="10.8" text-anchor="middle" y="3.5">Irradiation time (min)</text>
<text x="548.7" y="24.0" font-size="15.6" text-anchor="middle">(B)</text>
<path d="M46.2 191V369.8H290.15" stroke="#333" stroke-width="1.1" fill="none"/>
<path d="M46.2 369.8h-1.7M46.2 354.9h-3.6M46.2 340h-1.7M46.2 325.1h-3.6M46.2 310.2h-1.7M46.2 295.3h-3.6M46.2 280.4h-1.7M46.2 265.5h-3.6M46.2 250.6h-1.7M46.2 235.7h-3.6M46.2 220.8h-1.7M46.2 205.9h-3.6M46.2 191h-1.7M45.85 369.8v2.2M63.3 369.8v4.2M80.75 369.8v2.2M98.2 369.8v4.2M115.65 369.8v2.2M133.1 369.8v4.2M150.55 369.8v2.2M168 369.8v4.2M185.45 369.8v2.2M202.9 369.8v4.2M220.35 369.8v2.2M237.8 369.8v4.2M255.25 369.8v2.2M272.7 369.8v4.2M290.15 369.8v2.2" stroke="#333" stroke-width="1" fill="none"/>
<text x="39.6" y="358.7" font-size="11.2" text-anchor="end">0.00</text>
<text x="39.6" y="328.9" font-size="11.2" text-anchor="end">0.02</text>
<text x="39.6" y="299.1" font-size="11.2" text-anchor="end">0.04</text>
<text x="39.6" y="269.3" font-size="11.2" text-anchor="end">0.06</text>
<text x="39.6" y="239.5" font-size="11.2" text-anchor="end">0.08</text>
<text x="39.6" y="209.7" font-size="11.2" text-anchor="end">0.10</text>
<text x="63.3" y="384.9" font-size="11.2" text-anchor="middle">0</text>
<text x="98.2" y="384.9" font-size="11.2" text-anchor="middle">10</text>
<text x="133.1" y="384.9" font-size="11.2" text-anchor="middle">20</text>
<text x="168" y="384.9" font-size="11.2" text-anchor="middle">30</text>
<text x="202.9" y="384.9" font-size="11.2" text-anchor="middle">40</text>
<text x="237.8" y="384.9" font-size="11.2" text-anchor="middle">50</text>
<text x="272.7" y="384.9" font-size="11.2" text-anchor="middle">60</text>
<text x="168.2" y="407.5" font-size="13.1" text-anchor="middle">Irradiation time (min)</text>
<text transform="translate(9.1 288.4) rotate(-90)" font-size="13.1" text-anchor="middle">Concentration (mM)</text>
<text x="171.7" y="211.4" font-size="18" text-anchor="middle">(C)</text>
<circle cx="63.3" cy="354.9" r="2.45" fill="#f00"/>
<circle cx="98.2" cy="325.1" r="2.45" fill="#f00"/>
<circle cx="133.1" cy="308.56" r="2.45" fill="#f00"/>
<circle cx="168" cy="296.19" r="2.45" fill="#f00"/>
<circle cx="237.8" cy="264.75" r="2.45" fill="#f00"/>
<circle cx="272.7" cy="253.58" r="2.45" fill="#f00"/>
<rect x="61.15" y="203.75" width="4.3" height="4.3" fill="#000"/>
<rect x="96.05" y="257.39" width="4.3" height="4.3" fill="#000"/>
<rect x="130.95" y="281.23" width="4.3" height="4.3" fill="#000"/>
<rect x="165.85" y="299.11" width="4.3" height="4.3" fill="#000"/>
<rect x="235.65" y="346.79" width="4.3" height="4.3" fill="#000"/>
<rect x="270.55" y="351.26" width="4.3" height="4.3" fill="#000"/>
<path d="M401.4 201.4V371.8H635.85" stroke="#333" stroke-width="1.1" fill="none"/>
<path d="M401.4 371.8h-1.7M401.4 357.6h-3.5M401.4 343.4h-1.7M401.4 329.2h-3.5M401.4 315h-1.7M401.4 300.8h-3.5M401.4 286.6h-1.7M401.4 272.4h-3.5M401.4 258.2h-1.7M401.4 244h-3.5M401.4 229.8h-1.7M401.4 215.6h-3.5M401.4 201.4h-1.7M401.35 371.8v1.7M418.1 371.8v3.5M434.85 371.8v1.7M451.6 371.8v3.5M468.35 371.8v1.7M485.1 371.8v3.5M501.85 371.8v1.7M518.6 371.8v3.5M535.35 371.8v1.7M552.1 371.8v3.5M568.85 371.8v1.7M585.6 371.8v3.5M602.35 371.8v1.7M619.1 371.8v3.5M635.85 371.8v1.7" stroke="#333" stroke-width="1" fill="none"/>
<text x="396" y="361.3" font-size="10.8" text-anchor="end">0.00</text>
<text x="396" y="332.9" font-size="10.8" text-anchor="end">0.02</text>
<text x="396" y="304.5" font-size="10.8" text-anchor="end">0.04</text>
<text x="396" y="276.1" font-size="10.8" text-anchor="end">0.06</text>
<text x="396" y="247.7" font-size="10.8" text-anchor="end">0.08</text>
<text x="396" y="219.3" font-size="10.8" text-anchor="end">0.10</text>
<text x="418.1" y="385.8" font-size="10.8" text-anchor="middle">0</text>
<text x="451.6" y="385.8" font-size="10.8" text-anchor="middle">10</text>
<text x="485.1" y="385.8" font-size="10.8" text-anchor="middle">20</text>
<text x="518.6" y="385.8" font-size="10.8" text-anchor="middle">30</text>
<text x="552.1" y="385.8" font-size="10.8" text-anchor="middle">40</text>
<text x="585.6" y="385.8" font-size="10.8" text-anchor="middle">50</text>
<text x="619.1" y="385.8" font-size="10.8" text-anchor="middle">60</text>
<text x="518" y="405" font-size="12.5" text-anchor="middle">Irradiation time (min)</text>
<text transform="translate(366.2 294.5) rotate(-90)" font-size="12.5" text-anchor="middle">Concentration (mM)</text>
<text x="526.5" y="220" font-size="17.8" text-anchor="middle">(D)</text>
<circle cx="418.1" cy="357.6" r="2.4" fill="#f00"/>
<circle cx="451.6" cy="344.11" r="2.4" fill="#f00"/>
<circle cx="485.1" cy="336.87" r="2.4" fill="#f00"/>
<circle cx="518.6" cy="334.88" r="2.4" fill="#f00"/>
<circle cx="552.1" cy="331.47" r="2.4" fill="#f00"/>
<circle cx="585.6" cy="327.35" r="2.4" fill="#f00"/>
<circle cx="619.1" cy="325.37" r="2.4" fill="#f00"/>
<rect x="416.1" y="213.6" width="4.0" height="4.0" fill="#000"/>
<rect x="449.6" y="226.95" width="4.0" height="4.0" fill="#000"/>
<rect x="483.1" y="240.86" width="4.0" height="4.0" fill="#000"/>
<rect x="516.6" y="248.25" width="4.0" height="4.0" fill="#000"/>
<rect x="550.1" y="251.8" width="4.0" height="4.0" fill="#000"/>
<rect x="583.6" y="259.61" width="4.0" height="4.0" fill="#000"/>
<rect x="617.1" y="267.84" width="4.0" height="4.0" fill="#000"/>
</svg>
</body></html>
